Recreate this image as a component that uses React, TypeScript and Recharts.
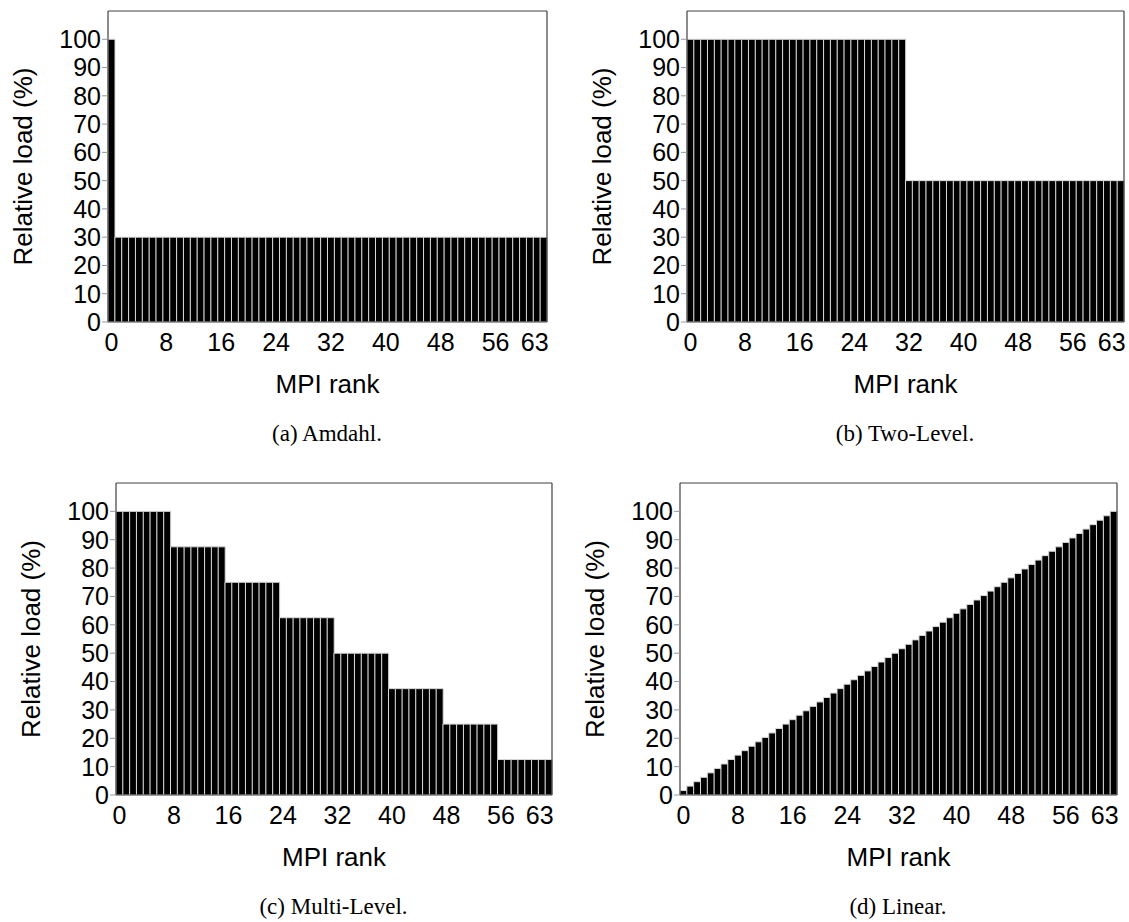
import React from "react";
import { BarChart, Bar, XAxis, YAxis } from "recharts";

const ranks = Array.from({ length: 64 }, (_, i) => String(i));

const amdahl = [
  100, 30, 30, 30, 30, 30, 30, 30, 30, 30, 30, 30, 30, 30, 30, 30,
  30, 30, 30, 30, 30, 30, 30, 30, 30, 30, 30, 30, 30, 30, 30, 30,
  30, 30, 30, 30, 30, 30, 30, 30, 30, 30, 30, 30, 30, 30, 30, 30,
  30, 30, 30, 30, 30, 30, 30, 30, 30, 30, 30, 30, 30, 30, 30, 30,
];

const twoLevel = [
  100, 100, 100, 100, 100, 100, 100, 100, 100, 100, 100, 100, 100, 100, 100, 100,
  100, 100, 100, 100, 100, 100, 100, 100, 100, 100, 100, 100, 100, 100, 100, 100,
  50, 50, 50, 50, 50, 50, 50, 50, 50, 50, 50, 50, 50, 50, 50, 50,
  50, 50, 50, 50, 50, 50, 50, 50, 50, 50, 50, 50, 50, 50, 50, 50,
];

const multiLevel = [
  100, 100, 100, 100, 100, 100, 100, 100,
  87.5, 87.5, 87.5, 87.5, 87.5, 87.5, 87.5, 87.5,
  75, 75, 75, 75, 75, 75, 75, 75,
  62.5, 62.5, 62.5, 62.5, 62.5, 62.5, 62.5, 62.5,
  50, 50, 50, 50, 50, 50, 50, 50,
  37.5, 37.5, 37.5, 37.5, 37.5, 37.5, 37.5, 37.5,
  25, 25, 25, 25, 25, 25, 25, 25,
  12.5, 12.5, 12.5, 12.5, 12.5, 12.5, 12.5, 12.5,
];

const linear = [
  1.56, 3.13, 4.69, 6.25, 7.81, 9.38, 10.94, 12.5,
  14.06, 15.63, 17.19, 18.75, 20.31, 21.88, 23.44, 25,
  26.56, 28.13, 29.69, 31.25, 32.81, 34.38, 35.94, 37.5,
  39.06, 40.63, 42.19, 43.75, 45.31, 46.88, 48.44, 50,
  51.56, 53.13, 54.69, 56.25, 57.81, 59.38, 60.94, 62.5,
  64.06, 65.63, 67.19, 68.75, 70.31, 71.88, 73.44, 75,
  76.56, 78.13, 79.69, 81.25, 82.81, 84.38, 85.94, 87.5,
  89.06, 90.63, 92.19, 93.75, 95.31, 96.88, 98.44, 100,
];

const yTicks = [0, 10, 20, 30, 40, 50, 60, 70, 80, 90, 100];
const xTickLabels = ["0", "8", "16", "24", "32", "40", "48", "56", "63"];

const SANS = "'Liberation Sans', Arial, Helvetica, sans-serif";
const SERIF = "'Liberation Serif', 'Times New Roman', serif";
const BORDER = "#404040";

const YW = 100; // left axis width (ticks + label)
const XH = 90; // bottom axis height (ticks + label)
const MT = 5;
const MR = 5;

type PanelProps = {
  values: number[];
  caption: string;
  plotLeft: number;
  plotTop: number;
  plotW: number;
  plotH: number;
};

function XTick(props: any) {
  const { x, y, payload } = props;
  const v = String(payload.value);
  if (!xTickLabels.includes(v)) return <g />;
  const last = v === "63";
  return (
    <text
      x={last ? x + 5 : x}
      y={y}
      dy="0.71em"
      textAnchor={last ? "end" : "middle"}
      fontSize={25}
      fontFamily={SANS}
      fill="#000"
    >
      {v}
    </text>
  );
}

function Panel({ values, caption, plotLeft, plotTop, plotW, plotH }: PanelProps) {
  const data = ranks.map((rank, i) => ({ rank, load: values[i] }));
  const width = YW + plotW + 1 + MR;
  const height = MT + 1 + plotH + XH;
  const left = plotLeft - YW;
  const top = plotTop - MT - 1;

  return (
    <>
      <div style={{ position: "absolute", left, top }}>
        <BarChart
          width={width}
          height={height}
          data={data}
          barCategoryGap={0}
          margin={{ top: MT, right: MR, bottom: 0, left: 0 }}
        >
          <XAxis
            xAxisId="b"
            dataKey="rank"
            interval={0}
            height={XH}
            tickSize={0}
            tickMargin={11}
            tickLine={false}
            axisLine={{ stroke: BORDER, strokeWidth: 1.2 }}
            tick={<XTick />}
            label={(p: any) => {
              const vb = p.viewBox;
              return (
                <text
                  x={vb.x + vb.width / 2}
                  y={vb.y + 71}
                  textAnchor="middle"
                  fontSize={26}
                  fontFamily={SANS}
                  fill="#000"
                >
                  MPI rank
                </text>
              );
            }}
          />
          <XAxis
            xAxisId="t"
            dataKey="rank"
            orientation="top"
            height={1}
            tick={false}
            tickLine={false}
            axisLine={{ stroke: BORDER, strokeWidth: 1.2 }}
          />
          <YAxis
            yAxisId="l"
            width={YW}
            domain={[0, 110]}
            ticks={yTicks}
            interval={0}
            allowDataOverflow
            tickSize={6}
            tickMargin={1}
            tickLine={{ stroke: "#999" }}
            axisLine={{ stroke: BORDER, strokeWidth: 1.2 }}
            tick={{ fontSize: 25, fontFamily: SANS, fill: "#000" }}
            label={(p: any) => {
              const vb = p.viewBox;
              const cx = vb.x + 15;
              const cy = vb.y + vb.height / 2;
              return (
                <text
                  x={cx}
                  y={cy}
                  transform={`rotate(-90 ${cx} ${cy})`}
                  textAnchor="middle"
                  dominantBaseline="central"
                  fontSize={26}
                  fontFamily={SANS}
                  fill="#000"
                >
                  Relative load (%)
                </text>
              );
            }}
          />
          <YAxis
            yAxisId="r"
            orientation="right"
            width={1}
            mirror
            domain={[0, 110]}
            ticks={yTicks}
            interval={0}
            allowDataOverflow
            tickSize={6}
            tick={false}
            tickLine={{ stroke: "#aaa" }}
            axisLine={{ stroke: BORDER, strokeWidth: 1.2 }}
          />
          <Bar
            xAxisId="b"
            yAxisId="l"
            dataKey="load"
            fill="#000"
            stroke="#d8d8d8"
            strokeWidth={1}
            isAnimationActive={false}
          />
        </BarChart>
      </div>
      <div
        style={{
          position: "absolute",
          left: plotLeft + plotW / 2 - 200,
          width: 400,
          top: plotTop + plotH + 100,
          textAlign: "center",
          fontFamily: SERIF,
          fontSize: 23,
          lineHeight: "23px",
          color: "#000",
        }}
      >
        {caption}
      </div>
    </>
  );
}

export default function App() {
  return (
    <div
      style={{
        position: "absolute",
        left: 0,
        top: 0,
        width: 1129,
        height: 922,
        overflow: "hidden",
        background: "#fff",
      }}
    >
      <Panel values={amdahl} caption="(a) Amdahl." plotLeft={108} plotTop={11} plotW={438} plotH={311} />
      <Panel values={twoLevel} caption="(b) Two-Level." plotLeft={687} plotTop={11} plotW={436} plotH={311} />
      <Panel values={multiLevel} caption="(c) Multi-Level." plotLeft={116} plotTop={483} plotW={435} plotH={312} />
      <Panel values={linear} caption="(d) Linear." plotLeft={680} plotTop={483} plotW={436} plotH={312} />
    </div>
  );
}
